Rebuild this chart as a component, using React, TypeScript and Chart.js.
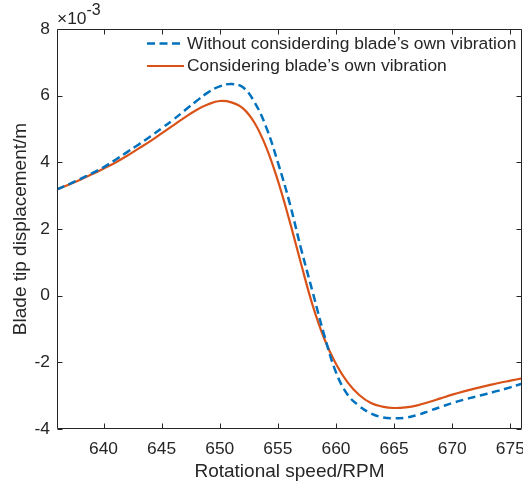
import React, { useEffect, useRef } from "react";
import { Chart, registerables } from "chart.js";

Chart.register(...registerables);

// ---- data ----
const rpm = [
  636, 637, 638, 639, 640, 641, 642, 643, 644, 645, 646, 647, 648, 649, 650,
  651, 652, 653, 654, 655, 656, 657, 658, 659, 660, 661, 662, 663, 664, 665,
  666, 667, 668, 669, 670, 671, 672, 673, 674, 675, 676,
];
// without considering blade's own vibration (x10^-3 m)
const withoutVibration = [
  3.19, 3.34, 3.5, 3.67, 3.85, 4.07, 4.3, 4.53, 4.77, 5.02, 5.28, 5.56, 5.84, 6.1, 6.28,
  6.35, 6.25, 5.8, 5.05, 4.0, 2.8, 1.4, 0.1, -1.2, -2.3, -2.97, -3.31, -3.53, -3.65, -3.68,
  -3.66, -3.58, -3.46, -3.34, -3.22, -3.12, -3.03, -2.94, -2.85, -2.75, -2.64,
];
// considering blade's own vibration (x10^-3 m)
const withVibration = [
  3.19, 3.33, 3.48, 3.64, 3.81, 3.99, 4.19, 4.41, 4.63, 4.87, 5.11, 5.35, 5.57, 5.74, 5.84,
  5.8, 5.62, 5.18, 4.45, 3.45, 2.25, 0.95, -0.3, -1.3, -2.05, -2.6, -2.98, -3.22, -3.33, -3.37,
  -3.35, -3.29, -3.19, -3.08, -2.97, -2.87, -2.78, -2.7, -2.62, -2.55, -2.48,
];
const xTicks = [640, 645, 650, 655, 660, 665, 670, 675];
const yTicks = [-4, -2, 0, 2, 4, 6, 8];
const seriesLabels = [
  "Without considerding blade\u2019s own vibration",
  "Considering blade\u2019s own vibration",
];
const xTitle = "Rotational speed/RPM";
const yTitle = "Blade tip displacement/m";
const exponentBase = "\u00d710";
const exponentPower = "-3";

// ---- styles ----
const FONT = "'Liberation Sans', Arial, Helvetica, sans-serif";
const INK = "#262626";
const BLUE = "#0072BD";
const ORANGE = "#D95319";
const DASH = [8, 4.5];
const FS = 17.4;

const decor = {
  id: "matlabDecor",
  afterDatasetsDraw(chart: any) {
    const { ctx, chartArea: a, scales } = chart;
    ctx.save();
    ctx.strokeStyle = INK;
    ctx.lineWidth = 1;
    const L = Math.round(a.left) + 0.5;
    const R = Math.round(a.right) - 0.5;
    const T = Math.round(a.top) + 0.5;
    const B = Math.round(a.bottom) - 0.5;
    ctx.beginPath();
    ctx.rect(L, T, R - L, B - T);
    ctx.stroke();
    const tl = 5;
    ctx.beginPath();
    for (const v of xTicks) {
      const x = Math.round(scales.x.getPixelForValue(v)) + 0.5;
      ctx.moveTo(x, B);
      ctx.lineTo(x, B - tl);
      ctx.moveTo(x, T);
      ctx.lineTo(x, T + tl);
    }
    for (const v of yTicks) {
      const y = Math.round(scales.y.getPixelForValue(v)) + 0.5;
      ctx.moveTo(L, y);
      ctx.lineTo(L + tl, y);
      ctx.moveTo(R, y);
      ctx.lineTo(R - tl, y);
    }
    ctx.stroke();

    // exponent label
    ctx.fillStyle = INK;
    ctx.textBaseline = "alphabetic";
    ctx.textAlign = "left";
    ctx.font = `${FS}px ${FONT}`;
    ctx.fillText(exponentBase, a.left, 24);
    const w = ctx.measureText(exponentBase).width;
    ctx.font = `16px ${FONT}`;
    ctx.fillText(exponentPower, a.left + w, 15);

    // legend
    const entries = [
      { label: seriesLabels[0], color: BLUE, dash: DASH, width: 2.5, y: 43.5 },
      { label: seriesLabels[1], color: ORANGE, dash: [] as number[], width: 2.2, y: 66 },
    ];
    const x0 = 147;
    const x1 = 184;
    ctx.font = `${FS}px ${FONT}`;
    ctx.textBaseline = "middle";
    for (const e of entries) {
      ctx.beginPath();
      ctx.strokeStyle = e.color;
      ctx.lineWidth = e.width;
      ctx.setLineDash(e.dash);
      ctx.moveTo(x0, e.y);
      ctx.lineTo(x1, e.y);
      ctx.stroke();
      ctx.setLineDash([]);
      ctx.fillStyle = INK;
      ctx.fillText(e.label, 187, e.y + 0.5);
    }
    ctx.restore();
  },
};

export default function App() {
  const ref = useRef<HTMLCanvasElement>(null);
  useEffect(() => {
    const chart = new Chart(ref.current as HTMLCanvasElement, {
      type: "line",
      data: {
        datasets: [
          {
            label: seriesLabels[0],
            data: rpm.map((x, i) => ({ x, y: withoutVibration[i] })),
            borderColor: BLUE,
            backgroundColor: BLUE,
            borderWidth: 2.5,
            borderDash: DASH,
            pointRadius: 0,
            tension: 0.4,
            fill: false,
          },
          {
            label: seriesLabels[1],
            data: rpm.map((x, i) => ({ x, y: withVibration[i] })),
            borderColor: ORANGE,
            backgroundColor: ORANGE,
            borderWidth: 2.2,
            pointRadius: 0,
            tension: 0.4,
            fill: false,
          },
        ],
      },
      options: {
        responsive: false,
        animation: false,
        events: [],
        layout: { padding: { top: 29, right: 1, left: 0, bottom: 0 } },
        plugins: { legend: { display: false }, tooltip: { enabled: false } },
        scales: {
          x: {
            type: "linear",
            min: 636,
            max: 676,
            grid: { display: false, drawTicks: false },
            border: { display: false },
            afterBuildTicks: (s: any) => {
              s.ticks = xTicks.map((v) => ({ value: v }));
            },
            afterFit: (s: any) => {
              s.height = 54;
              s.paddingLeft = 0;
              s.paddingRight = 0;
            },
            ticks: {
              font: { family: FONT, size: FS },
              color: INK,
              padding: 10,
              maxRotation: 0,
              autoSkip: false,
            },
            title: {
              display: true,
              text: xTitle,
              font: { family: FONT, size: 19 },
              color: INK,
              padding: { top: 0, bottom: 0 },
            },
          },
          y: {
            type: "linear",
            min: -4,
            max: 8,
            grid: { display: false, drawTicks: false },
            border: { display: false },
            afterBuildTicks: (s: any) => {
              s.ticks = yTicks.map((v) => ({ value: v }));
            },
            afterFit: (s: any) => {
              s.width = 57;
              s.paddingTop = 0;
              s.paddingBottom = 0;
            },
            ticks: {
              font: { family: FONT, size: FS },
              color: INK,
              padding: 7,
              autoSkip: false,
            },
            title: {
              display: true,
              text: yTitle,
              font: { family: FONT, size: 19 },
              color: INK,
              padding: { top: 9, bottom: 0 },
            },
          },
        },
      },
      plugins: [decor],
    } as any);
    return () => chart.destroy();
  }, []);
  return (
    <div
      style={{
        position: "fixed",
        left: 0,
        top: 0,
        width: 523,
        height: 483,
        background: "#fff",
      }}
    >
      <canvas ref={ref} width={523} height={483} style={{ display: "block" }} />
    </div>
  );
}
